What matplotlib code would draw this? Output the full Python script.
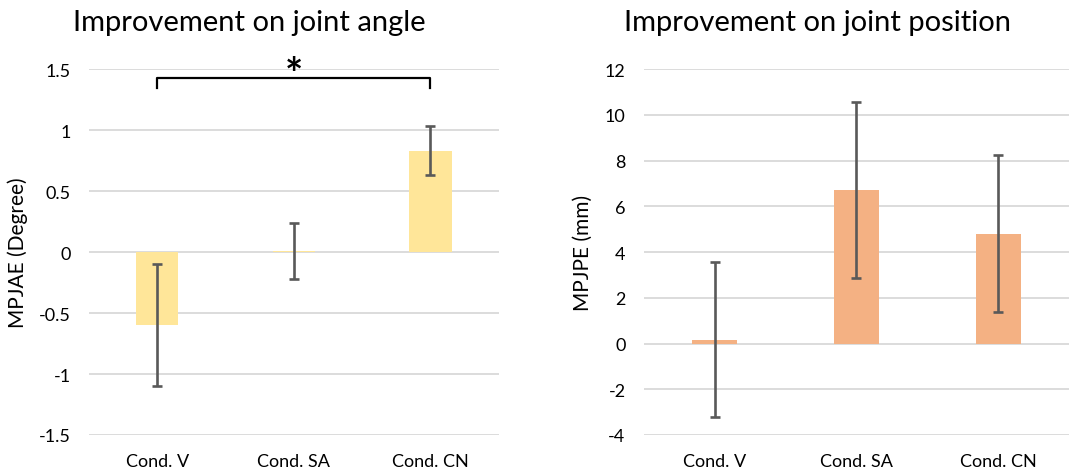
import matplotlib.pyplot as plt
import numpy as np

plt.rcParams['font.family'] = ['Lato', 'DejaVu Sans']

# Data
conditions = ['Cond. V', 'Cond. SA', 'Cond. CN']
angle_mean = [-0.60, 0.01, 0.83]
angle_err = [0.50, 0.23, 0.20]
pos_mean = [0.17, 6.70, 4.80]
pos_err = [3.40, 3.85, 3.43]

angle_ticks = [-1.5, -1, -0.5, 0, 0.5, 1, 1.5]
angle_ticklabels = ['-1.5', '-1', '-0.5', '0', '0.5', '1', '1.5']
pos_ticks = [-4, -2, 0, 2, 4, 6, 8, 10, 12]

# significance bracket between Cond. V and Cond. CN
sig_pair = (0, 2)
sig_level = 1.425
sig_drop = 0.08

bar_color_angle = '#FFE699'
bar_color_pos = '#F4B183'
err_color = '#595959'
grid_color = '#D9D9D9'

fig = plt.figure(figsize=(10.78, 4.77), dpi=100)
ax1 = fig.add_axes([0.0826, 0.086, 0.380, 0.767])
ax2 = fig.add_axes([0.597, 0.086, 0.395, 0.767])


def style_axis(ax, ticks, labels, ylim, ylabel):
    ax.set_ylim(*ylim)
    ax.set_xlim(-0.5, 2.5)
    ax.set_yticks(ticks)
    ax.set_yticklabels(labels)
    ax.set_xticks(range(len(conditions)))
    ax.set_xticklabels(conditions)
    for s in ax.spines.values():
        s.set_visible(False)
    ax.grid(axis='y', color=grid_color, linewidth=1.3)
    ax.set_axisbelow(True)
    ax.tick_params(axis='both', length=0, labelsize=13, colors='black')
    ax.tick_params(axis='y', pad=13)
    ax.tick_params(axis='x', pad=13)
    ax.set_ylabel(ylabel, fontsize=15)


x = np.arange(len(conditions))

ax1.bar(x, angle_mean, width=0.31, color=bar_color_angle, zorder=2)
ax1.errorbar(x, angle_mean, yerr=angle_err, fmt='none', ecolor=err_color,
             elinewidth=1.9, capsize=3.5, capthick=1.9, zorder=3)
style_axis(ax1, angle_ticks, angle_ticklabels, (-1.5, 1.5), 'MPJAE (Degree)')
ax1.yaxis.set_label_coords(-0.149, 0.5)

# bracket + star
bx = [sig_pair[0], sig_pair[0], sig_pair[1], sig_pair[1]]
by = [sig_level - sig_drop, sig_level, sig_level, sig_level - sig_drop]
ax1.plot(bx, by, color='black', linewidth=1.6, zorder=4, clip_on=False)
ax1.text(np.mean(sig_pair), sig_level - 0.08, '*', ha='center', va='baseline',
         fontsize=31, fontweight='bold', zorder=4)

ax2.bar(x, pos_mean, width=0.32, color=bar_color_pos, zorder=2)
ax2.errorbar(x, pos_mean, yerr=pos_err, fmt='none', ecolor=err_color,
             elinewidth=1.9, capsize=3.5, capthick=1.9, zorder=3)
style_axis(ax2, pos_ticks, [str(t) for t in pos_ticks], (-4, 12), 'MPJPE (mm)')
ax2.yaxis.set_label_coords(-0.12, 0.5)

fig.text(0.231, 0.951, 'Improvement on joint angle', ha='center', va='center', fontsize=21)
fig.text(0.758, 0.951, 'Improvement on joint position', ha='center', va='center', fontsize=21)

fig.savefig('out.png', dpi=100)
